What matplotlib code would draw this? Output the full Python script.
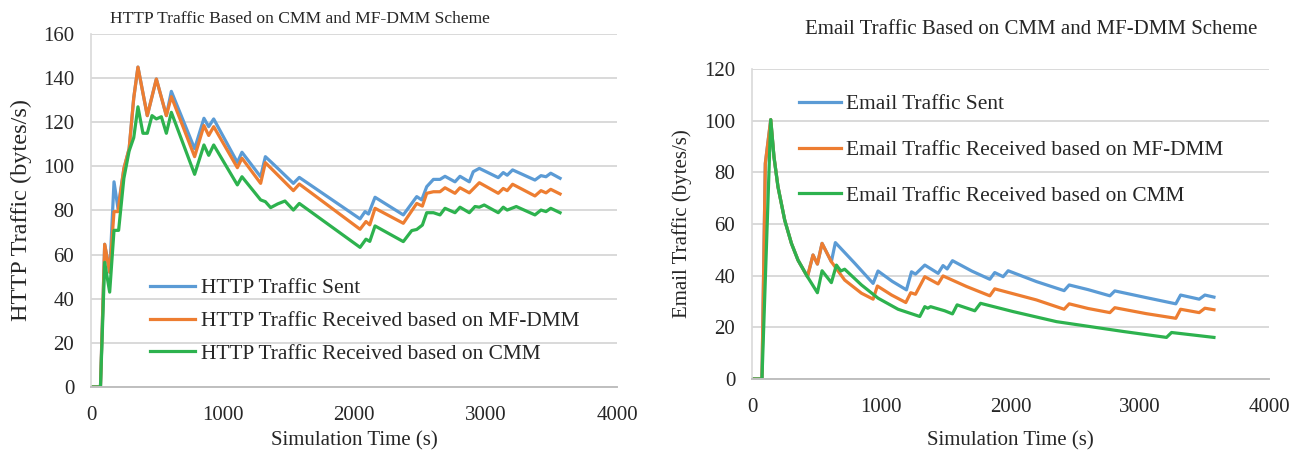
import matplotlib
matplotlib.use("Agg")
import matplotlib.pyplot as plt

plt.rcParams['font.family'] = ['Liberation Serif', 'DejaVu Serif']

# ---------------- HTTP traffic (bytes/s) ----------------
http_sent_t = [0, 72, 104, 142, 175, 205, 250, 290, 325, 357, 428, 497, 573, 611,
               788, 859, 895, 933, 1113, 1148, 1290, 1326, 1387, 1539, 1584,
               2046, 2084, 2110, 2160, 2375, 2477, 2515, 2553, 2604, 2654, 2692,
               2768, 2806, 2877, 2907, 2953, 3097, 3135, 3165, 3206, 3376, 3422,
               3460, 3496, 3567]
http_sent_v = [0, 0, 64.7, 52, 93, 81, 99, 108, 131, 145, 123, 139.6, 123, 134,
               108, 121.8, 118, 121.5, 101.8, 106.4, 95.3, 104.4, 101, 92.3, 95,
               76.2, 79.5, 78.4, 86, 78, 86.3, 84.8, 90.8, 94.1, 94.1, 95.5,
               93, 95.5, 93, 97.6, 99.1, 94.9, 97.2, 96, 98.4, 93.8, 95.8,
               95.3, 96.9, 94.6]

http_mfdmm_t = [0, 72, 104, 142, 175, 205, 250, 290, 325, 357, 428, 497, 573, 611,
                788, 859, 895, 933, 1113, 1148, 1290, 1326, 1539, 1584,
                2046, 2091, 2120, 2160, 2375, 2477, 2520, 2553, 2604, 2654, 2692,
                2768, 2806, 2877, 2953, 3097, 3135, 3165, 3206, 3376, 3422,
                3460, 3496, 3567]
http_mfdmm_v = [0, 0, 64.7, 52, 79.5, 79.5, 99, 108, 131, 145, 123, 139.6, 123, 131.6,
                104.4, 118.5, 114, 118, 99.4, 103.7, 92.3, 101.7, 89, 92,
                71.5, 75, 73.5, 81, 74.2, 83.2, 82, 87.8, 88.5, 88.5, 90.3,
                87.8, 90.3, 88, 92.6, 87.8, 90, 89, 91.9, 86.6, 89,
                88, 89.6, 87.5]

http_cmm_t = [0, 72, 104, 142, 175, 210, 250, 290, 325, 357, 395, 428, 464, 497, 535,
              573, 611, 788, 859, 895, 933, 1113, 1148, 1290, 1326, 1366, 1420, 1475,
              1539, 1584, 2046, 2091, 2120, 2160, 2375, 2439, 2477, 2520, 2553, 2604,
              2654, 2692, 2768, 2806, 2877, 2920, 2953, 2990, 3097, 3135, 3165, 3234,
              3376, 3422, 3460, 3496, 3567]
http_cmm_v = [0, 0, 56.5, 43, 71, 71, 94.6, 107, 113, 127, 115, 115, 123, 121.5, 122.5,
              115, 124.5, 96.4, 109.7, 105, 109.7, 91.6, 95.3, 84.8, 84, 81.3, 83, 84.3,
              80.2, 83.2, 63.3, 67, 66, 73, 65.9, 70.9, 71.4, 73.4, 79, 79,
              78, 81, 79, 81.5, 79, 81.8, 81.5, 82.5, 79, 81.5, 80.2, 81.8,
              78, 80.2, 79.5, 81, 79]

# ---------------- Email traffic (bytes/s) ----------------
email_sent_t = [0, 77, 103, 145, 170, 201, 253, 305, 356, 429, 472, 506, 542, 614,
                645, 795, 937, 975, 1085, 1195, 1234, 1265, 1337, 1440, 1478, 1510,
                1551, 1700, 1840, 1878, 1943, 1982, 2201, 2415, 2454, 2600, 2769,
                2807, 3050, 3279, 3316, 3460, 3504, 3574]
email_sent_v = [0, 0, 83.4, 100.4, 86, 74.4, 61.5, 52.5, 46, 39.6, 48, 44.5, 52.5, 45.4,
                52.8, 44.8, 37, 41.8, 37.8, 34.5, 41.5, 40.6, 44.1, 40.9, 43.9, 42.6,
                45.8, 41.8, 38.6, 41.2, 39.6, 41.9, 37.7, 34.2, 36.4, 34.6, 32.2,
                34.1, 31.5, 29.1, 32.5, 30.9, 32.5, 31.7]

email_mfdmm_t = [0, 77, 103, 145, 170, 201, 253, 305, 356, 429, 472, 506, 542, 614,
                 717, 847, 937, 970, 1080, 1190, 1228, 1265, 1337, 1440, 1478, 1660,
                 1840, 1878, 2201, 2415, 2454, 2600, 2769, 2807, 3050, 3279, 3316,
                 3460, 3504, 3574]
email_mfdmm_v = [0, 0, 83.4, 100.4, 86, 74.4, 61.5, 52.5, 46, 39.6, 48, 44.5, 52.5, 45.4,
                 38.3, 33.2, 30.9, 36, 32.5, 29.6, 33.4, 32.8, 39.6, 36.8, 39.9, 35.8,
                 32.2, 34.9, 30.6, 27, 29.1, 27.3, 25.7, 27.6, 25.3, 23.5, 27,
                 25.7, 27.4, 26.8]

email_cmm_t = [0, 77, 145, 170, 201, 253, 305, 356, 429, 470, 506, 542, 614, 653, 687,
               717, 847, 975, 1130, 1298, 1337, 1360, 1382, 1491, 1551, 1587, 1724,
               1768, 2020, 2356, 2872, 3207, 3246, 3574]
email_cmm_v = [0, 0, 100.4, 86, 74.4, 61.5, 52.5, 46, 39.6, 36.3, 33.4, 41.9, 37.3, 44.1, 41.8,
               42.5, 36.4, 31.3, 27, 24.2, 28, 27.4, 28, 26.4, 25.2, 28.7, 26.4,
               29.3, 26.1, 22.2, 18.4, 16.1, 18, 16.1]

http_labels = ['HTTP Traffic Sent', 'HTTP Traffic Received based on MF-DMM',
               'HTTP Traffic Received based on CMM']
email_labels = ['Email Traffic Sent', 'Email Traffic Received based on MF-DMM',
                'Email Traffic Received based on CMM']

BLUE, ORANGE, GREEN = '#5B9BD5', '#ED7D31', '#2DB24E'
GRID = '#D9D9D9'
TEXT = '#262626'

W, H = 1299, 454
fig = plt.figure(figsize=(W / 100, H / 100), dpi=100)


def px_axes(x0, y0, x1, y1):
    return fig.add_axes([x0 / W, 1 - y1 / H, (x1 - x0) / W, (y1 - y0) / H])


def style(ax, ymax, ystep):
    ax.set_xlim(0, 4000)
    ax.set_ylim(0, ymax)
    ax.set_xticks(range(0, 4001, 1000))
    ax.set_yticks(range(0, ymax + 1, ystep))
    ax.grid(axis='y', color=GRID, linewidth=1.4)
    ax.set_axisbelow(True)
    for s in ('top', 'right'):
        ax.spines[s].set_visible(False)
    ax.spines['left'].set_color(GRID)
    ax.spines['bottom'].set_color('#BFBFBF')
    ax.spines['left'].set_linewidth(1.2)
    ax.spines['bottom'].set_linewidth(1.4)
    ax.tick_params(length=0, labelsize=15, colors=TEXT, pad=12)
    ax.tick_params(axis='x', pad=14)


lw = 2.3
leg_kw = dict(bbox_transform=fig.transFigure, frameon=False, fontsize=15.4,
              handletextpad=0.25, labelcolor=TEXT, loc='center left')

# left chart
ax1 = px_axes(91, 34, 617, 387)
style(ax1, 160, 20)
ax1.plot(http_sent_t, http_sent_v, color=BLUE, lw=lw, label=http_labels[0])
ax1.plot(http_mfdmm_t, http_mfdmm_v, color=ORANGE, lw=lw, label=http_labels[1])
ax1.plot(http_cmm_t, http_cmm_v, color=GREEN, lw=lw, label=http_labels[2])
ax1.set_xlabel('Simulation Time (s)', fontsize=15, color=TEXT, labelpad=4)
ax1.set_ylabel('HTTP Traffic (bytes/s)', fontsize=17.5, color=TEXT, labelpad=8)
ax1.set_title('HTTP Traffic Based on CMM and MF-DMM Scheme', fontsize=12.6,
              color=TEXT, pad=8, x=0.397)
ax1.legend(bbox_to_anchor=(131 / W, 1 - 321 / H), handlelength=2.1,
           labelspacing=0.6, **leg_kw)

# right chart
ax2 = px_axes(752, 69, 1269, 379)
style(ax2, 120, 20)
ax2.plot(email_sent_t, email_sent_v, color=BLUE, lw=lw, label=email_labels[0])
ax2.plot(email_mfdmm_t, email_mfdmm_v, color=ORANGE, lw=lw, label=email_labels[1])
ax2.plot(email_cmm_t, email_cmm_v, color=GREEN, lw=lw, label=email_labels[2])
ax2.set_xlabel('Simulation Time (s)', fontsize=15, color=TEXT, labelpad=10)
ax2.set_ylabel('Email Traffic (bytes/s)', fontsize=15, color=TEXT, labelpad=9)
ax2.set_title('Email Traffic Based on CMM and MF-DMM Scheme', fontsize=15,
              color=TEXT, pad=25, x=0.54)
ax2.legend(bbox_to_anchor=(780 / W, 1 - 150 / H), handlelength=1.95,
           labelspacing=1.2, **leg_kw)

fig.savefig('out.png', dpi=100, facecolor='white')
